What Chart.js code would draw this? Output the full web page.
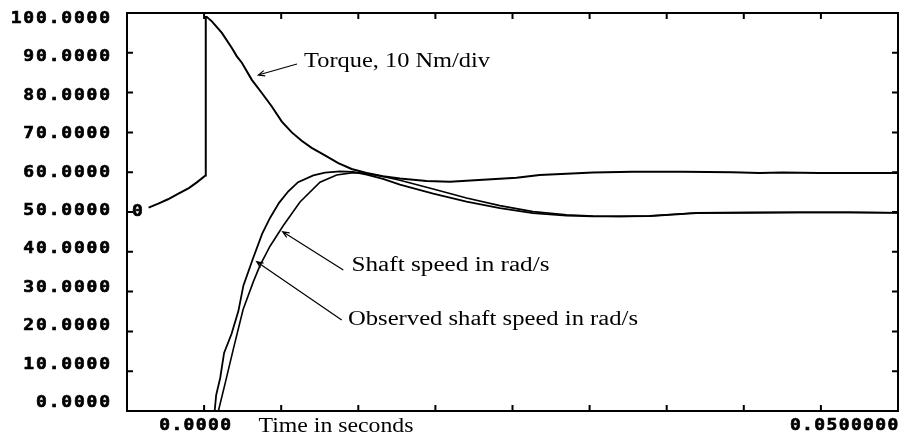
<!DOCTYPE html>
<html><head><meta charset="utf-8">
<style>html,body{margin:0;padding:0;background:#fff;}#wrap{width:906px;height:438px;}</style>
<script src="https://cdn.jsdelivr.net/npm/chart.js@4.4.1/dist/chart.umd.min.js"></script>
</head><body><div id="wrap"><canvas id="c" width="906" height="438"></canvas></div>
<script>
// ---- data (time in seconds, values in plot units) ----
const torqueTime = [-0.00400,-0.00330,-0.00260,-0.00185,-0.00110,-0.00050,0.00010,0.00012,0.00020,0.00056,0.00128,0.00200,0.00236,0.00272,0.00344,0.00416,0.00488,0.00560,0.00632,0.00703,0.00775,0.00871,0.00967,0.01063,0.01171,0.01289,0.01411,0.01603,0.01771,0.02010,0.02251,0.02418,0.02611,0.02802,0.03088,0.03447,0.03807,0.04002,0.04167,0.04433,0.04721,0.05000];
const torqueValue = [51.1,52.1,53.2,54.6,56.0,57.5,59.2,99.0,99.0,97.9,95.0,91.2,89.1,87.5,83.2,79.9,76.5,72.7,70.0,67.9,66.1,64.2,62.3,60.8,59.8,59.0,58.4,57.8,57.6,58.1,58.6,59.3,59.6,59.9,60.1,60.1,60.0,59.8,59.9,59.8,59.8,59.8];
const observedTime = [0.00076,0.00087,0.00116,0.00144,0.00198,0.00247,0.00283,0.00349,0.00418,0.00475,0.00540,0.00607,0.00677,0.00787,0.00871,0.00979,0.01073,0.01171,0.01289,0.01411,0.01651,0.01891,0.02131,0.02370,0.02611,0.02802,0.02994,0.03210,0.03548,0.03930,0.04289,0.04649,0.05000];
const observedValue = [0,4.0,8.3,14.6,19.4,25.1,31.5,38.0,44.5,48.5,52.3,55.2,57.5,59.2,59.9,60.2,60.1,59.4,58.3,56.9,54.6,52.6,51.0,49.7,49.1,48.9,48.9,49.0,49.7,49.8,49.9,49.9,49.8];
const speedTime = [0.00103,0.00152,0.00211,0.00281,0.00355,0.00403,0.00475,0.00571,0.00691,0.00835,0.00955,0.01075,0.01171,0.01289,0.01411,0.01651,0.01891,0.02131,0.02370,0.02611,0.02802,0.02994,0.03210,0.03548,0.03930,0.04289,0.04649,0.05000];
const speedValue = [0,7.0,15.6,25.5,32.5,36.6,41.4,46.6,52.5,57.5,59.3,59.9,59.7,58.9,58.0,55.8,53.5,51.6,50.1,49.3,49.0,48.9,49.0,49.8,49.9,49.9,49.9,49.8];
const yTicks = [0,10,20,30,40,50,60,70,80,90,100];
const yTickLabels = ['0.0000','10.0000','20.0000','30.0000','40.0000','50.0000','60.0000','70.0000','80.0000','90.0000','100.0000'];
const xTickLabelValues = [0, 0.05];
const xTickLabels = ['0.0000','0.0500000'];
const xTitle = 'Time in seconds';
const annotations = ['Torque, 10 Nm/div','Shaft speed in rad/s','Observed shaft speed in rad/s'];
const zeroMarkLabel = '0';
const zeroMarkValue = 50;

// ---- axis extent ----
const xDiv = 0.05/9;
const xMin = -xDiv, xMax = 0.05;

const toXY = (ts, vs) => ts.map((t,i)=>({x:t,y:vs[i]}));

function monoText(ctx, text, xRight, yc, adv){
  ctx.save();
  ctx.font = 'bold 15px "DejaVu Sans Mono"';
  ctx.textAlign='center'; ctx.textBaseline='middle'; ctx.fillStyle='#000';
  ctx.strokeStyle='#000'; ctx.lineWidth=0.6;
  const n = text.length;
  for(let i=0;i<n;i++){
    const cx = xRight - (n-i-0.5)*adv;
    ctx.save(); ctx.translate(cx, yc); ctx.scale(1.2,1);
    ctx.fillText(text[i],0,0); ctx.strokeText(text[i],0,0);
    ctx.restore();
  }
  ctx.restore();
}
function serifText(ctx, text, left, base, width){
  ctx.save();
  ctx.font = '20px "Liberation Serif"'; ctx.fillStyle='#000';
  ctx.textAlign='left'; ctx.textBaseline='alphabetic';
  const w = ctx.measureText(text).width;
  ctx.translate(left, base); ctx.scale(width/w, 1); ctx.fillText(text,0,0);
  ctx.restore();
}
function arrow(ctx, x1,y1,x2,y2){
  ctx.save(); ctx.strokeStyle='#000'; ctx.lineWidth=1.2;
  ctx.beginPath(); ctx.moveTo(x1,y1); ctx.lineTo(x2,y2);
  const a = Math.atan2(y2-y1,x2-x1), L=7, s=0.4;
  ctx.moveTo(x2 - L*Math.cos(a-s), y2 - L*Math.sin(a-s)); ctx.lineTo(x2,y2);
  ctx.lineTo(x2 - L*Math.cos(a+s), y2 - L*Math.sin(a+s));
  ctx.stroke(); ctx.restore();
}

const frame = {
  id:'frame',
  afterDraw(chart){
    const {ctx, chartArea:a, scales:{x,y}} = chart;
    ctx.save();
    ctx.strokeStyle='#000'; ctx.lineWidth=2;
    ctx.strokeRect(a.left, a.top, a.right-a.left, a.bottom-a.top);
    ctx.beginPath();
    yTicks.forEach(v=>{
      const py = y.getPixelForValue(v);
      ctx.moveTo(a.left,py); ctx.lineTo(a.left+6,py);
      ctx.moveTo(a.right,py); ctx.lineTo(a.right-6,py);
    });
    for(let k=-1;k<=9;k++){
      const px = x.getPixelForValue(k*xDiv);
      ctx.moveTo(px,a.bottom); ctx.lineTo(px,a.bottom-6);
      ctx.moveTo(px,a.top); ctx.lineTo(px,a.top+6);
    }
    ctx.stroke();
    // y labels
    const y0 = y.getPixelForValue(0)-7.5, y1 = y.getPixelForValue(100)+5.7;
    yTicks.forEach((v,i)=>{
      monoText(ctx, yTickLabels[i], 111, y0+(y1-y0)*v/100, 12.65);
    });
    // x labels
    const lab0 = xTickLabels[0];
    monoText(ctx, lab0, x.getPixelForValue(xTickLabelValues[0]) - 9 + lab0.length*12.2/2, 426.5, 12.2);
    monoText(ctx, xTickLabels[1], x.getPixelForValue(xTickLabelValues[1]) + 1, 426.5, 12.2);
    // zero marker
    monoText(ctx, zeroMarkLabel, a.left+16.6, y.getPixelForValue(zeroMarkValue), 12.2);
    // titles and annotations
    serifText(ctx, xTitle, 258.5, 431.5, 155);
    serifText(ctx, annotations[0], 304, 67, 186);
    serifText(ctx, annotations[1], 351.5, 271, 198);
    serifText(ctx, annotations[2], 348, 325, 290);
    arrow(ctx, 297, 64, 258.3, 75);
    arrow(ctx, 343.3, 270, 282.7, 231.7);
    arrow(ctx, 341.7, 320, 256.7, 261.7);
    ctx.restore();
  }
};

const lineStyle = {showLine:true, pointRadius:0, borderColor:'#000', borderWidth:1.6, tension:0, fill:false};
new Chart(document.getElementById('c'), {
  type:'scatter',
  data:{datasets:[
    Object.assign({label:'Torque', data: toXY(torqueTime, torqueValue)}, lineStyle, {borderWidth:2}),
    Object.assign({label:'Shaft speed', data: toXY(speedTime, speedValue)}, lineStyle),
    Object.assign({label:'Observed shaft speed', data: toXY(observedTime, observedValue)}, lineStyle, {borderWidth:1.8}),
  ]},
  options:{
    responsive:false, animation:false, devicePixelRatio:1,
    layout:{padding:{top:13,right:8,left:0,bottom:0}},
    plugins:{legend:{display:false}, tooltip:{enabled:false}},
    scales:{
      x:{type:'linear', min:xMin, max:xMax, ticks:{display:false}, grid:{display:false}, border:{display:false},
         afterFit(s){ s.height = 27; }},
      y:{type:'linear', min:0, max:100, ticks:{display:false}, grid:{display:false}, border:{display:false},
         afterFit(s){ s.width = 127; }}
    }
  },
  plugins:[frame]
});
</script></body></html>
